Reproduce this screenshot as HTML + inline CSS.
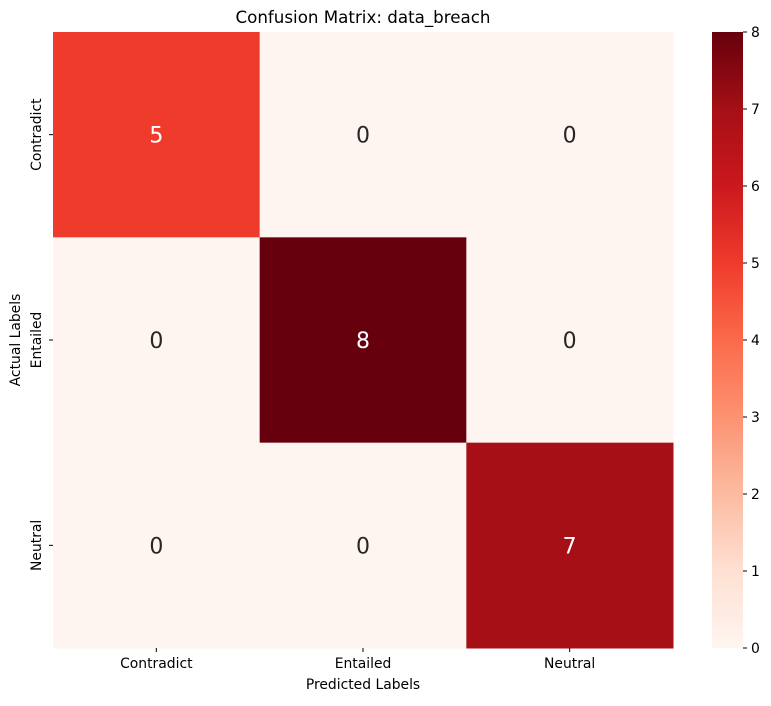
<!DOCTYPE html>
<html><head><meta charset="utf-8"><style>
body{margin:0;background:#fff;font-family:"Liberation Sans","DejaVu Sans",sans-serif}
</style></head><body>
<svg id="chart" width="771" height="701" xmlns="http://www.w3.org/2000/svg" style="font-family:'DejaVu Sans','Liberation Sans',sans-serif">
<defs><linearGradient id="reds" x1="0" y1="1" x2="0" y2="0">
<stop offset="0" stop-color="#fff5f0"/><stop offset="0.125" stop-color="#fee0d2"/><stop offset="0.25" stop-color="#fcbba1"/><stop offset="0.375" stop-color="#fc9272"/><stop offset="0.5" stop-color="#fb6a4a"/><stop offset="0.625" stop-color="#ef3b2c"/><stop offset="0.75" stop-color="#cb181d"/><stop offset="0.875" stop-color="#a50f15"/><stop offset="1" stop-color="#67000d"/>
</linearGradient></defs>
<text x="363" y="23" font-size="16.7" text-anchor="middle" fill="#000">Confusion Matrix: data_breach</text>
<g id="cells"></g>
<rect x="712" y="32" width="31" height="616" fill="url(#reds)"/>
<g id="cbticks"></g>
<g id="axes"></g>
<text x="363" y="689" font-size="13.9" text-anchor="middle">Predicted Labels</text>
<text transform="translate(20,340) rotate(-90)" font-size="13.9" text-anchor="middle">Actual Labels</text>
</svg>
<script>
const labels = ["Contradict","Entailed","Neutral"];
const matrix = [[5,0,0],[0,8,0],[0,0,7]];
const cbTicks = [0,1,2,3,4,5,6,7,8];
const vmin = 0, vmax = 8;
const X0=53,X1=673,Y0=32,Y1=648,CB0=712,CBW=31;
const stops=["#fff5f0","#fee0d2","#fcbba1","#fc9272","#fb6a4a","#ef3b2c","#cb181d","#a50f15","#67000d"];
function hex(c){return [1,3,5].map(i=>parseInt(c.substr(i,2),16));}
function color(v){let t=(v-vmin)/(vmax-vmin)*(stops.length-1);let i=Math.min(Math.floor(t),stops.length-2);let f=t-i;
 const a=hex(stops[i]),b=hex(stops[i+1]);return "rgb("+a.map((x,k)=>Math.round(x+(b[k]-x)*f)).join(",")+")";}
const NS="http://www.w3.org/2000/svg";
const n=labels.length,cw=(X1-X0)/n,ch=(Y1-Y0)/n;
const xs=i=>X0+i*cw, ys=j=>Y0+j*ch, cbY=v=>Y1-(v-vmin)/(vmax-vmin)*(Y1-Y0);
function mk(tag,attrs,parent){const e=document.createElementNS(NS,tag);for(const k in attrs)e.setAttribute(k,attrs[k]);parent.appendChild(e);return e;}
const cells=document.getElementById("cells"),axes=document.getElementById("axes"),cbt=document.getElementById("cbticks");
matrix.forEach((row,r)=>row.forEach((v,c)=>{
 const rect=mk("rect",{x:xs(c),y:ys(r),width:cw+0.5,height:ch+0.5,fill:color(v)},cells);
 
 
 const t=mk("text",{x:xs(c)+cw/2,y:ys(r)+ch/2+8,"font-size":22,"text-anchor":"middle",fill:(v-vmin)/(vmax-vmin)>0.5?"#fff":"#262626"},cells);
 t.textContent=v;
 
 
}));
labels.forEach((l,i)=>{
 const cx=xs(i)+cw/2;
 mk("line",{x1:cx,x2:cx,y1:Y1,y2:Y1+4,stroke:"#000"},axes);
 const t=mk("text",{x:cx,y:Y1+20,"font-size":13.9,"text-anchor":"middle"},axes);t.textContent=l;
 
 
 const cy=ys(i)+ch/2;
 mk("line",{x1:X0-4,x2:X0,y1:cy,y2:cy,stroke:"#000"},axes);
 const u=mk("text",{transform:`translate(${X0-12},${cy}) rotate(-90)`,"font-size":13.9,"text-anchor":"middle"},axes);u.textContent=l;
 
 
});
cbTicks.forEach(v=>{
 const y=cbY(v);
 mk("line",{x1:CB0+CBW,x2:CB0+CBW+4,y1:y,y2:y,stroke:"#000"},cbt);
 const t=mk("text",{x:CB0+CBW+8,y:y+5,"font-size":13.9},cbt);t.textContent=v;
 
 
});
</script>
</body></html>
